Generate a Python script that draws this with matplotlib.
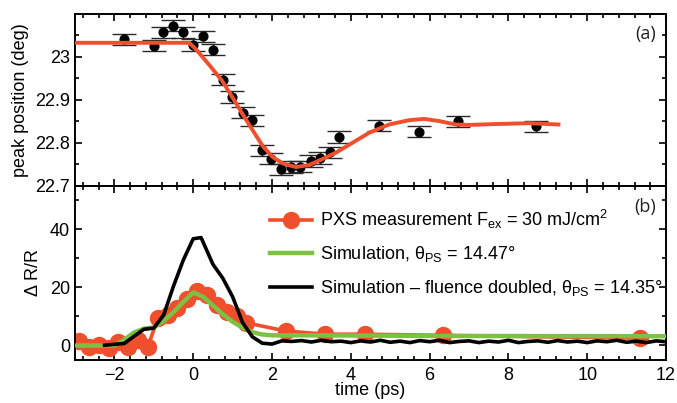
import matplotlib
matplotlib.use("Agg")
import matplotlib.pyplot as plt
from matplotlib.ticker import MultipleLocator
from matplotlib.lines import Line2D

plt.rcParams["font.family"] = ["Liberation Sans", "DejaVu Sans"]
plt.rcParams["mathtext.fontset"] = "custom"
plt.rcParams["mathtext.rm"] = "Liberation Sans"
plt.rcParams["mathtext.it"] = "Liberation Sans:italic"
plt.rcParams["axes.unicode_minus"] = True

# ---- panel (a): peak position vs delay ----
peak_t = [-1.75, -1.0, -0.76, -0.51, -0.26, 0.0, 0.24, 0.49, 0.76, 0.99,
          1.26, 1.49, 1.74, 1.98, 2.24, 2.48, 2.72, 2.98, 3.23, 3.48,
          3.71, 4.72, 5.72, 6.73, 8.71]
peak_pos = [23.041, 23.026, 23.057, 23.073, 23.057, 23.028, 23.048, 23.017,
            22.947, 22.907, 22.870, 22.853, 22.783, 22.763, 22.739, 22.744,
            22.745, 22.758, 22.765, 22.778, 22.814, 22.840, 22.826, 22.850,
            22.839]
peak_err = [0.013] * len(peak_t)

fit_t = [-3.0, -0.1, 0.08, 0.42, 0.73, 0.99, 1.26, 1.52, 1.77, 2.02, 2.28,
         2.61, 2.95, 3.29, 3.63, 3.96, 4.47, 4.97, 5.48, 5.86, 6.24, 6.66,
         7.0, 7.67, 8.51, 9.27]
fit_pos = [23.033, 23.033, 23.017, 22.980, 22.945, 22.907, 22.866, 22.828,
           22.792, 22.767, 22.752, 22.744, 22.749, 22.763, 22.778, 22.796,
           22.824, 22.843, 22.853, 22.856, 22.851, 22.843, 22.842, 22.844,
           22.846, 22.843]

# ---- panel (b): reflectivity change ----
pxs_t = [-2.9, -2.65, -2.4, -2.15, -1.9, -1.65, -1.4, -1.15, -0.9, -0.65,
         -0.4, -0.15, 0.1, 0.35, 0.6, 0.85, 1.1, 1.35, 2.35, 3.35, 4.35,
         6.35, 11.35]
pxs_dr = [1.5, -0.5, 0.0, -0.8, 1.2, -0.5, 1.8, -0.5, 9.5, 10.5, 13.0, 16.0,
          18.8, 17.3, 14.0, 11.5, 10.0, 7.8, 5.0, 3.9, 3.9, 3.5, 2.5]

sim_t = [-3.0, -2.0, -1.75, -1.5, -1.25, -1.0, -0.75, -0.5, -0.25, 0.0,
         0.25, 0.5, 0.75, 1.0, 1.25, 1.5, 1.75, 2.0, 3.0, 6.0, 12.0]
sim_dr = [0.0, 0.0, 2.0, 4.5, 5.8, 6.2, 8.5, 11.5, 15.0, 18.3, 16.8, 13.8,
          10.8, 8.2, 6.2, 4.6, 3.8, 3.5, 3.5, 3.3, 3.2]

dbl_t = [-2.25, -2.0, -1.75, -1.5, -1.25, -1.0, -0.75, -0.5, -0.25, 0.0,
         0.2, 0.5, 0.75, 1.0, 1.25, 1.5, 1.75, 2.0,
         2.25, 2.5, 2.75, 3.0, 3.25, 3.5, 3.75, 4.0, 4.25, 4.5, 4.75, 5.0,
         5.25, 5.5, 5.75, 6.0, 6.25, 6.5, 6.75, 7.0, 7.25, 7.5, 7.75, 8.0,
         8.25, 8.5, 8.75, 9.0, 9.25, 9.5, 9.75, 10.0, 10.25, 10.5, 10.75,
         11.0, 11.25, 11.5, 11.75, 12.0]
dbl_dr = [0.1, 0.4, 0.7, 3.2, 5.6, 6.0, 10.5, 20.5, 29.5, 36.8,
          37.2, 28.0, 23.2, 16.8, 8.0, 3.0, 0.8, 0.5,
          1.6, 1.4, 1.7, 1.2, 1.8, 1.3, 1.5, 1.0, 1.6, 1.2, 1.8, 1.1,
          1.5, 1.0, 1.7, 1.3, 1.8, 1.0, 1.4, 1.6, 1.0, 1.5, 1.2, 1.8,
          1.0, 1.4, 1.6, 1.1, 1.7, 1.2, 1.5, 1.0, 1.6, 1.3, 1.8,
          1.1, 1.5, 1.0, 1.6, 1.3]

x_ticks = [-2, 0, 2, 4, 6, 8, 10, 12]

RED = "#ef4f2c"
GREEN = "#7cc143"

fig = plt.figure(figsize=(6.77, 4.03), dpi=100)
ax1 = fig.add_axes([0.1108, 0.5385, 0.8730, 0.4268])
ax2 = fig.add_axes([0.1108, 0.1067, 0.8730, 0.4318])

for ax in (ax1, ax2):
    ax.set_xlim(-3, 12)
    ax.set_xticks(x_ticks)
    ax.xaxis.set_minor_locator(MultipleLocator(0.4))
    ax.tick_params(which="both", direction="in", top=True, right=True,
                   labelsize=13, width=1.2)
    ax.tick_params(which="major", length=5)
    ax.tick_params(which="minor", length=2.8)
    for s in ax.spines.values():
        s.set_linewidth(1.4)

# panel (a)
ax1.errorbar(peak_t, peak_pos, yerr=peak_err, fmt="o", color="black",
             ms=6.3, ecolor="#2a2a2a", elinewidth=1.0, capsize=8.5,
             capthick=1.0, zorder=2)
ax1.plot(fit_t, fit_pos, color=RED, lw=2.8, zorder=3)
ax1.set_ylim(22.7, 23.1)
ax1.set_yticks([22.7, 22.8, 22.9, 23.0])
ax1.set_yticklabels(["22.7", "22.8", "22.9", "23"])
ax1.yaxis.set_minor_locator(MultipleLocator(0.05))
ax1.tick_params(labelbottom=False)
ax1.set_ylabel("peak position (deg)", fontsize=13, va="center")
ax1.yaxis.set_label_coords(-0.093, 0.5)
ax1.text(0.965, 0.885, "(a)", transform=ax1.transAxes, ha="center",
         va="center", fontsize=13, family="Open Sans", color="#222222")

# panel (b)
ax2.plot(pxs_t, pxs_dr, "-o", color=RED, lw=2.6, ms=11.5, zorder=2)
ax2.plot(sim_t, sim_dr, color=GREEN, lw=3.2, zorder=3)
ax2.plot(dbl_t, dbl_dr, color="black", lw=2.6, zorder=4)
ax2.set_ylim(-5, 55)
ax2.set_yticks([0, 20, 40])
ax2.yaxis.set_minor_locator(MultipleLocator(10))
ax2.set_ylabel("Δ R/R", fontsize=13, va="center")
ax2.yaxis.set_label_coords(-0.071, 0.5)
ax2.set_xlabel("time (ps)", fontsize=13, va="center")
ax2.xaxis.set_label_coords(0.5, -0.178)
ax2.tick_params(axis="x", pad=5)
ax2.text(0.965, 0.88, "(b)", transform=ax2.transAxes, ha="center",
         va="center", fontsize=13, family="Open Sans", color="#222222")

handles = [
    Line2D([], [], color=RED, lw=2.6, marker="o", ms=11.5),
    Line2D([], [], color=GREEN, lw=3.2),
    Line2D([], [], color="black", lw=2.6),
]
labels = [
    r"PXS measurement F$_\mathregular{ex}$ = 30 mJ/cm$^\mathregular{2}$",
    r"Simulation, θ$_\mathregular{PS}$ = 14.47°",
    r"Simulation – fluence doubled, θ$_\mathregular{PS}$ = 14.35°",
]
ax2.legend(handles, labels, loc="upper left", bbox_to_anchor=(0.33, 0.875),
           frameon=False, fontsize=13, handlelength=2.35, handletextpad=0.4,
           labelspacing=0.75, borderpad=0, borderaxespad=0, numpoints=1)

fig.savefig("out.png", dpi=100)
